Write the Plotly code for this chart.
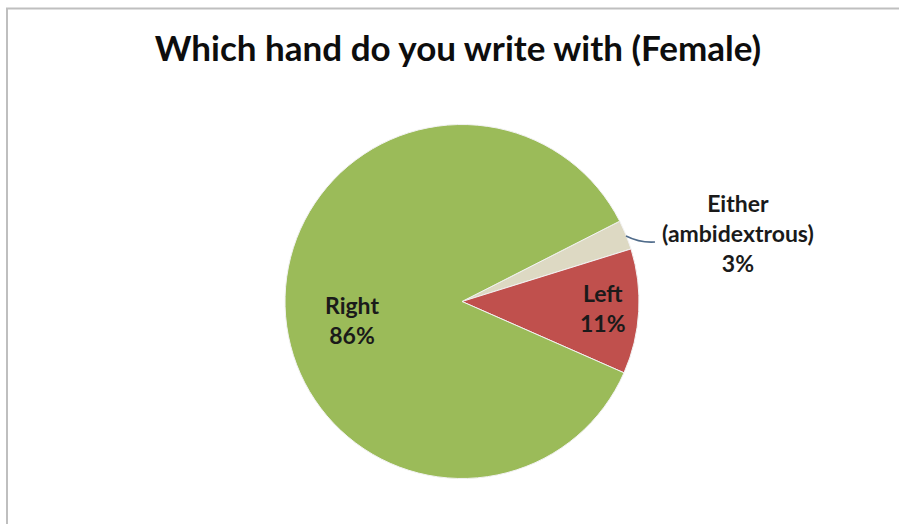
import plotly.graph_objects as go

labels = ["Either<br>(ambidextrous)", "Left", "Right"]
values = [2.7, 11.4, 85.9]
colors = ["#DDD9C3", "#C0504D", "#9BBB59"]
title_text = "Which hand do you write with (Female)"

W, H = 899, 524
cx, cy, R = 462, 301.5, 177


def px(x):
    return x / W


def py(y):
    return 1 - y / H


fig = go.Figure()
fig.add_trace(go.Pie(
    labels=labels,
    values=values,
    sort=False,
    direction="clockwise",
    rotation=63,
    marker=dict(colors=colors, line=dict(color="#F2F2F2", width=1)),
    textinfo="none",
    hoverinfo="label+percent",
    showlegend=False,
    domain=dict(x=[px(cx - R), px(cx + R)], y=[py(cy + R), py(cy - R)]),
))

total = sum(values)
pcts = [round(v / total * 100) for v in values]
label_pos = [(738, 233), (603, 308), (352, 320)]
for lab, p, (lx, ly) in zip(labels, pcts, label_pos):
    fig.add_annotation(
        x=px(lx), y=py(ly), xref="paper", yref="paper",
        xanchor="center", yanchor="middle",
        text=f"<b>{lab}<br>{p}%</b>",
        showarrow=False,
        font=dict(family="Lato", size=23, color="#1a1a1a"),
        align="center",
    )

fig.update_layout(
    width=W, height=H,
    margin=dict(l=0, r=0, t=0, b=0),
    paper_bgcolor="white",
    plot_bgcolor="white",
    title=dict(text=f"<b>{title_text}</b>", x=px(458), xanchor="center",
               y=py(49), yanchor="middle", yref="container",
               font=dict(family="Lato", size=35, color="#0d0d0d")),
)

# chart frame (top and left edges visible)
fig.add_shape(type="rect", xref="paper", yref="paper",
              x0=px(7), x1=1.05, y0=-0.05, y1=py(8.5),
              line=dict(color="#BFBFBF", width=2), fillcolor="rgba(0,0,0,0)", layer="below")
# leader line for the small slice
fig.add_shape(type="path", xref="paper", yref="paper",
              path=f"M {px(626)} {py(236)} Q {px(640)} {py(243)} {px(655)} {py(242)}",
              line=dict(color="#4F6B8A", width=1.5))

fig.write_html("out.html", config={"displayModeBar": False},
               post_script="document.body.style.margin='0';")
